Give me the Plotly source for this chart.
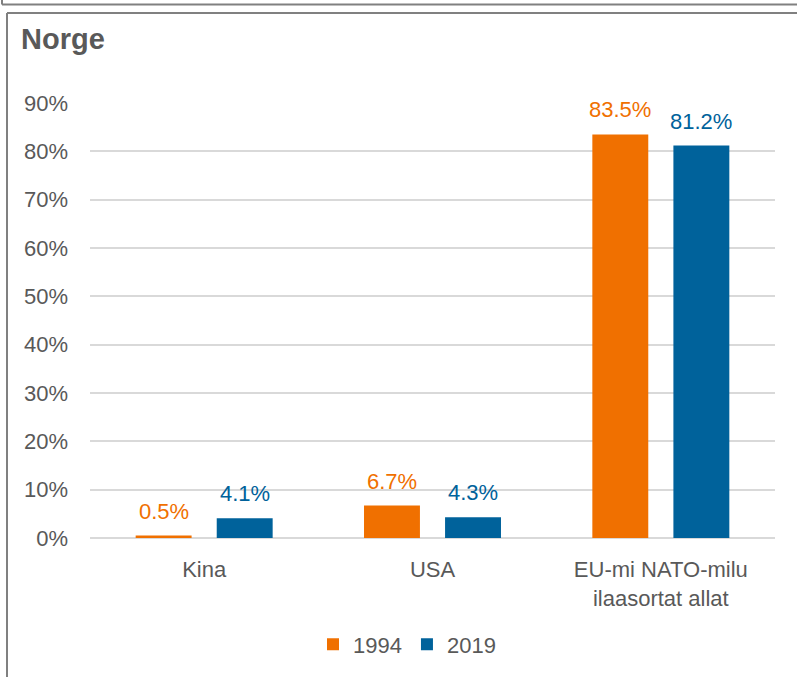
import plotly.graph_objects as go

categories = ["Kina", "USA", "EU-mi NATO-milu<br>ilaasortat allat"]
series_names = ["1994", "2019"]
values_1994 = [0.005, 0.067, 0.835]
values_2019 = [0.041, 0.043, 0.812]
label_1994 = ["0.5%", "6.7%", "83.5%"]
label_2019 = ["4.1%", "4.3%", "81.2%"]
y_ticks = [0, 0.1, 0.2, 0.3, 0.4, 0.5, 0.6, 0.7, 0.8, 0.9]
y_tick_labels = ["0%", "10%", "20%", "30%", "40%", "50%", "60%", "70%", "80%", "90%"]
title_text = "Norge"

ORANGE = "#F07000"
BLUE = "#00629B"
GRAY_TEXT = "#595959"
FONT = "Liberation Sans"

W, H = 797, 677
L, R, T, B = 90, 22, 103, 137
PW, PH = W - L - R, H - T - B


def px_x(px):
    return (px - L) / PW


def px_y(py):
    return (H - B - py) / PH


fig = go.Figure()
fig.add_trace(go.Bar(x=categories, y=values_1994, name=series_names[0],
                     marker=dict(color=ORANGE, line=dict(width=0))))
fig.add_trace(go.Bar(x=categories, y=values_2019, name=series_names[1],
                     marker=dict(color=BLUE, line=dict(width=0))))

annotations = []
for vals, labels, color, shift in [(values_1994, label_1994, ORANGE, -40.5),
                                   (values_2019, label_2019, BLUE, 40.5)]:
    for c, v, t in zip(categories, vals, labels):
        annotations.append(dict(x=c, y=v, text=t, showarrow=False, xref="x", yref="y",
                                xanchor="center", yanchor="bottom", xshift=shift, yshift=10,
                                font=dict(family=FONT, size=22, color=color)))

annotations.append(dict(x=px_x(19), y=px_y(39), xref="paper", yref="paper", text="<b>" + title_text + "</b>",
                        showarrow=False, xanchor="left", yanchor="middle",
                        font=dict(family=FONT, size=29, color=GRAY_TEXT)))

line_col = "#808080"
shapes = [
    dict(type="line", xref="paper", yref="paper", x0=px_x(2), x1=px_x(800), y0=px_y(4), y1=px_y(4),
         line=dict(color=line_col, width=2)),
    dict(type="line", xref="paper", yref="paper", x0=px_x(2), x1=px_x(2), y0=px_y(-2), y1=px_y(4),
         line=dict(color=line_col, width=2)),
    dict(type="line", xref="paper", yref="paper", x0=px_x(7), x1=px_x(800), y0=px_y(12.5), y1=px_y(12.5),
         line=dict(color=line_col, width=2)),
    dict(type="line", xref="paper", yref="paper", x0=px_x(7), x1=px_x(7), y0=px_y(12.5), y1=px_y(680),
         line=dict(color=line_col, width=2)),
]

fig.update_layout(
    width=W, height=H,
    margin=dict(l=L, r=R, t=T, b=B, pad=0),
    paper_bgcolor="white", plot_bgcolor="white",
    barmode="group", bargap=0.29, bargroupgap=0.31,
    font=dict(family=FONT, size=22, color=GRAY_TEXT),
    showlegend=True,
    legend=dict(orientation="h", x=px_x(407), y=px_y(647), xanchor="center", yanchor="middle",
                font=dict(family=FONT, size=22, color=GRAY_TEXT), itemwidth=30,
                bgcolor="rgba(0,0,0,0)"),
    annotations=annotations,
    shapes=shapes,
    xaxis=dict(showgrid=False, showline=False, zeroline=False, ticks="",
               tickfont=dict(family=FONT, size=22, color=GRAY_TEXT), ticklabelstandoff=16,
               fixedrange=True),
    yaxis=dict(range=[0, 0.9001], tickvals=y_ticks, ticktext=y_tick_labels,
               showgrid=True, gridcolor="#D9D9D9", gridwidth=1.5,
               zeroline=True, zerolinecolor="#D9D9D9", zerolinewidth=2,
               showline=False, ticks="", ticklabelstandoff=21,
               tickfont=dict(family=FONT, size=22, color=GRAY_TEXT), fixedrange=True),
)

fig.write_html("out.html", config={"displayModeBar": False},
               post_script="document.body.style.margin='0';")
